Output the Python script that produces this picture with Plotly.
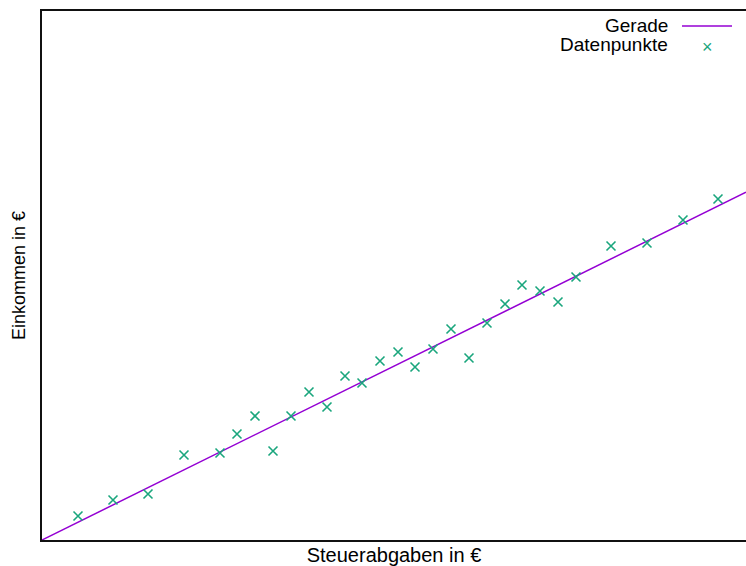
import plotly.graph_objects as go

# Data (arbitrary units since the chart has no tick labels)
steuer = [36, 71, 106, 142, 178, 195, 213, 231, 249, 267, 285, 303, 320, 338, 356,
          373, 391, 409, 427, 445, 463, 480, 498, 516, 534, 569, 605, 641, 676]
einkommen = [24, 40, 46, 85, 87, 106, 124, 89, 124, 148, 133, 164, 157, 179, 188,
             173, 191, 211, 182, 217, 236, 255, 249, 238, 263, 294, 297, 320, 341]
line_slope = 0.494
line_intercept = 0.0
x_range = [0, 704]
y_range = [0, 529]

LINE_COLOR = "#9400d3"
PT_COLOR = "#1aa67d"
FONT = "Liberation Sans, Arial, Helvetica, sans-serif"

W, H = 746, 566
ML, MR, MT, MB = 42, 0, 11, 26
PW, PH = W - ML - MR, H - MT - MB


def px(xp):
    return (xp - ML) / PW


def py(yp):
    return (H - MB - yp) / PH


line_x = list(x_range)
line_y = [line_intercept + line_slope * v for v in line_x]

fig = go.Figure()
fig.add_trace(go.Scatter(x=line_x, y=line_y, mode="lines",
                         line=dict(color=LINE_COLOR, width=1.5),
                         name="Gerade", showlegend=False, cliponaxis=True))
fig.add_trace(go.Scatter(x=steuer, y=einkommen, mode="markers",
                         marker=dict(symbol="x-thin", size=9,
                                     line=dict(color=PT_COLOR, width=1.6)),
                         name="Datenpunkte", showlegend=False))

# gnuplot-style key (text left, sample right)
fig.add_annotation(x=px(670), y=py(25), xref="paper", yref="paper", text="Gerade",
                   showarrow=False, xanchor="right", yanchor="middle",
                   font=dict(family=FONT, size=19, color="#000"))
fig.add_annotation(x=px(670), y=py(45), xref="paper", yref="paper", text="Datenpunkte",
                   showarrow=False, xanchor="right", yanchor="middle",
                   font=dict(family=FONT, size=19, color="#000"))
fig.add_shape(type="line", xref="paper", yref="paper",
              x0=px(682), x1=px(732), y0=py(26), y1=py(26),
              line=dict(color=LINE_COLOR, width=1.5))
fig.add_annotation(x=px(707), y=py(47), xref="paper", yref="paper", text="×",
                   showarrow=False, xanchor="center", yanchor="middle",
                   font=dict(family=FONT, size=18, color=PT_COLOR))

fig.update_layout(
    width=W, height=H,
    margin=dict(l=ML, r=MR, t=MT, b=MB),
    paper_bgcolor="white", plot_bgcolor="white",
    font=dict(family=FONT, size=19, color="#000"),
    showlegend=False,
    xaxis=dict(range=x_range, showgrid=False, zeroline=False, showticklabels=False,
               ticks="", showline=True, mirror=True, linecolor="#111", linewidth=1.5,
               title=dict(text="Steuerabgaben in €", standoff=9,
                          font=dict(family=FONT, size=20))),
    yaxis=dict(range=y_range, showgrid=False, zeroline=False, showticklabels=False,
               ticks="", showline=True, mirror=False, linecolor="#111", linewidth=1.5,
               title=dict(text="Einkommen in €", standoff=10,
                          font=dict(family=FONT, size=18))),
)

fig.write_html("out.html",
               config={"displayModeBar": False},
               post_script="document.body.style.margin='0';"
                           "document.body.style.overflow='hidden';")
